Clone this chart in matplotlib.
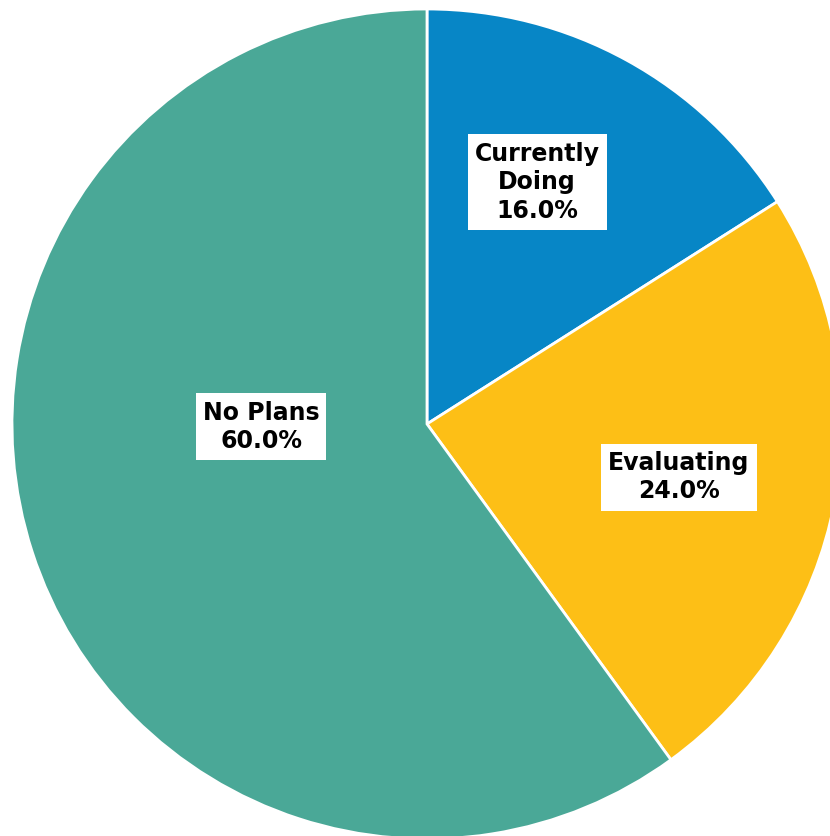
import matplotlib.pyplot as plt
import numpy as np

# Adoption status breakdown
labels = ['Currently\nDoing', 'Evaluating', 'No Plans']
shares = [16.0, 24.0, 60.0]
colors = ['#0786C6', '#FDBF16', '#4AA897']

# label placement: (radius fraction, angle in degrees) from the pie centre
label_r = [0.64, 0.62, 0.40]
label_ang = [65.5, -11.9, 181.0]

fig = plt.figure(figsize=(8.30, 8.36), dpi=100)
ax = fig.add_axes([0, 0, 1, 1])

cx, cy, R = 427, 412, 415
wedges, _ = ax.pie(shares, colors=colors, startangle=90, counterclock=False,
                   center=(cx, cy), radius=R, frame=True,
                   wedgeprops=dict(edgecolor='white', linewidth=2))

for lab, val, r, a in zip(labels, shares, label_r, label_ang):
    x = cx + r * R * np.cos(np.radians(a))
    y = cy + r * R * np.sin(np.radians(a))
    ax.text(x, y, '%s\n%.1f%%' % (lab, val), ha='center', va='center',
            fontsize=17, fontweight='bold', family='DejaVu Sans', linespacing=1.25,
            bbox=dict(boxstyle='square,pad=0.3', facecolor='white', edgecolor='none'))

ax.set_xlim(0, 830)
ax.set_ylim(0, 836)
ax.set_aspect('equal')
ax.axis('off')

plt.savefig('out.png', dpi=100)
plt.close()
